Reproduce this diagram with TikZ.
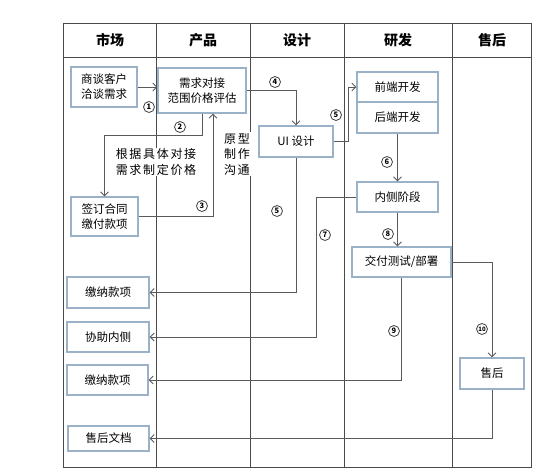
\documentclass[tikz,border=0pt]{standalone}
\usepackage{fontspec}
\setmainfont{Noto Sans CJK SC}
\usetikzlibrary{positioning,arrows.meta}
\definecolor{boxline}{HTML}{9BB1C8}
\definecolor{gridline}{HTML}{4A4A4A}
\definecolor{linkline}{HTML}{5A5A5A}
\tikzset{
  flowarrow/.style={-{Straight Barb[length=4pt,width=8pt]}, draw=linkline, line width=0.9pt},
  stepbox/.style={draw=boxline, line width=1.1pt, fill=white, align=center, inner sep=0pt, font=\fontsize{11.5}{15}\selectfont},
  numlabel/.style={circle, draw=black!75, line width=0.8pt, fill=white, inner sep=0pt, minimum size=11pt, font=\fontsize{7.5}{7.5}\selectfont\bfseries},
  relabel/.style={fill=white, align=left, inner sep=1pt, font=\fontsize{12}{15.5}\selectfont\addfontfeatures{LetterSpace=14}},
  lanehead/.style={font=\fontsize{14}{14}\selectfont\bfseries}
}
\begin{document}
\begin{tikzpicture}[x=1pt, y=-1pt]
  \useasboundingbox (0,0) rectangle (554,469);
  % swimlane table
  \draw[gridline, line width=1pt] (63,23) rectangle (531,467);
  \draw[gridline, line width=1pt] (63,57) -- (531,57);
  \foreach \x in {156,250,344,452}
    \draw[gridline, line width=1pt] (\x,23) -- (\x,467);
  \foreach \x/\name/\txt in {110/market/市场, 203/product/产品, 297/design/设计, 398/dev/研发, 492/service/售后}
    \node[lanehead] (head-\name) at (\x,40) {\txt};

  % boxes
  \node[stepbox, minimum width=66pt, minimum height=40pt] (talk) at (104,87) {商谈客户\\洽谈需求};
  \node[stepbox, minimum width=88pt, minimum height=45pt] (assess) at (202,90.5) {需求对接\\范围价格评估};
  \node[stepbox, minimum width=74pt, minimum height=31pt] (ui) at (296,141.5) {UI 设计};
  \node[stepbox, minimum width=81pt, minimum height=30pt] (front) at (397.5,87) {前端开发};
  \node[stepbox, minimum width=81pt, minimum height=31pt] (back) at (397.5,117.5) {后端开发};
  \node[stepbox, minimum width=81pt, minimum height=30pt] (inner) at (397.5,197) {内侧阶段};
  \node[stepbox, minimum width=99pt, minimum height=30pt] (deliver) at (401.5,262) {交付测试/部署};
  \node[stepbox, minimum width=64pt, minimum height=31pt] (after) at (492,373.5) {售后};
  \node[stepbox, minimum width=67pt, minimum height=39pt] (contract) at (104.5,216.5) {签订合同\\缴付款项};
  \node[stepbox, minimum width=82pt, minimum height=31pt] (pay1) at (108,292.5) {缴纳款项};
  \node[stepbox, minimum width=82pt, minimum height=30pt] (assist) at (108,337) {协助内侧};
  \node[stepbox, minimum width=81pt, minimum height=30pt] (pay2) at (107.5,380) {缴纳款项};
  \node[stepbox, minimum width=81pt, minimum height=25pt] (doc) at (108.5,438.5) {售后文档};

  % connectors
  \draw[flowarrow] (talk.east) -- (talk.east -| assess.west);
  \draw[flowarrow] (assess.south) -- ++(0,22) -| (contract.north);
  \draw[flowarrow] (contract.east) -| ([xshift=11pt]assess.south);
  \draw[flowarrow] (assess.east) -| (ui.north);
  \draw[flowarrow] (ui.east) -- ++(15,0) |- (front.west);
  \draw[flowarrow] (ui.south) |- (pay1.east);
  \draw[flowarrow] (back.south) -- (inner.north);
  \draw[flowarrow] (inner.west) -- ++(-40,0) |- (assist.east);
  \draw[flowarrow] (inner.south) -- (inner.south |- deliver.north);
  \draw[flowarrow] (deliver.south) |- (pay2.east);
  \draw[flowarrow] (deliver.east) -| (after.north);
  \draw[flowarrow] (after.south) |- (doc.east);

  % labels
  \node[relabel] (pricenote) at (156,162) {根据具体对接\\需求制定价格};
  \node[relabel] (protonote) at (237,154) {原\,型\\制\,作\\沟通};
  \node[numlabel] (n1) at (149,107) {1};
  \node[numlabel] (n2) at (180,127) {2};
  \node[numlabel] (n3) at (202,206) {3};
  \node[numlabel] (n4) at (275,82) {4};
  \node[numlabel] (n5a) at (336,115) {5};
  \node[numlabel] (n5b) at (277,211) {5};
  \node[numlabel] (n6) at (387,162) {6};
  \node[numlabel] (n7) at (325,235) {7};
  \node[numlabel] (n8) at (388,234) {8};
  \node[numlabel] (n9) at (394,331) {9};
  \node[numlabel, font=\fontsize{6}{6}\selectfont\bfseries] (n10) at (482,329) {10};
\end{tikzpicture}
\end{document}
